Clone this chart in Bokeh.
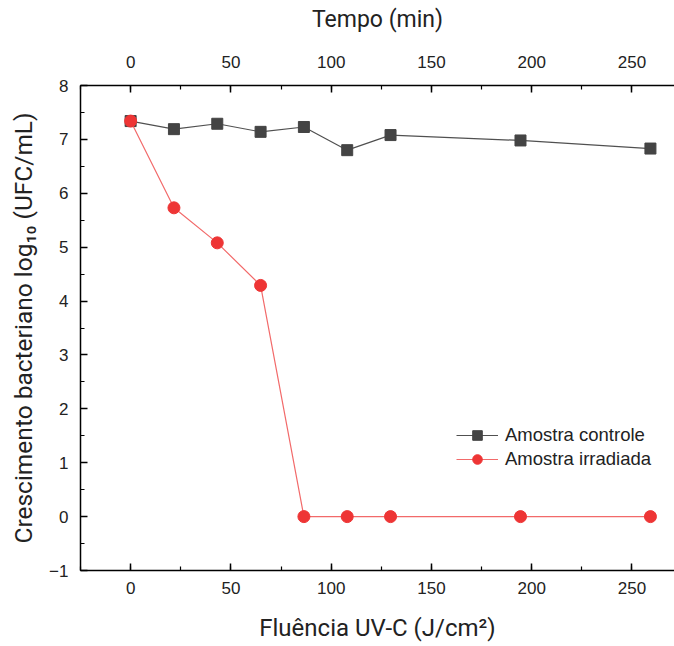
from bokeh.plotting import figure
from bokeh.models import LinearAxis, Range1d, SingleIntervalTicker, Legend, LegendItem
from bokeh.embed import file_html
from bokeh.resources import INLINE

fluencia = [0, 21.6, 43.2, 64.8, 86.4, 108, 129.6, 194.4, 259.2]
controle = [7.34, 7.19, 7.29, 7.14, 7.23, 6.80, 7.08, 6.98, 6.83]
irradiada = [7.34, 5.73, 5.08, 4.29, 0, 0, 0, 0, 0]

x_label = "Fluência UV-C (J/cm²)"
y_label = "Crescimento bacteriano log₁₀ (UFC/mL)"
top_label = "Tempo (min)"

TICK_FONT = "Liberation Sans"
LABEL_FONT = "Roboto"

p = figure(width=674, height=646, x_range=Range1d(-25, 271.2), y_range=Range1d(-1, 8),
           output_backend="svg", toolbar_location=None,
           min_border_left=80, min_border_right=0, min_border_top=85, min_border_bottom=76)
p.outline_line_color = None
p.xgrid.visible = False
p.ygrid.visible = False
p.background_fill_color = "white"
p.border_fill_color = "white"

p.extra_x_ranges = {"tempo": Range1d(-25, 271.2)}
top = LinearAxis(x_range_name="tempo")
p.add_layout(top, "above")

def style(ax, ticker, label_size):
    ax.ticker = ticker
    ax.axis_line_color = "black"
    ax.axis_line_width = 1.5
    ax.major_tick_in = 7
    ax.major_tick_out = 0
    ax.minor_tick_in = 4
    ax.minor_tick_out = 0
    ax.major_tick_line_color = "black"
    ax.minor_tick_line_color = "black"
    ax.major_tick_line_width = 1.5
    ax.minor_tick_line_width = 1.2
    ax.major_label_text_font = TICK_FONT
    ax.major_label_text_font_size = "17px"
    ax.major_label_text_color = "#222222"
    ax.axis_label_text_font = LABEL_FONT
    ax.axis_label_text_font_style = "normal"
    ax.axis_label_text_font_size = label_size
    ax.axis_label_text_color = "#222222"

for ax in p.below:
    style(ax, SingleIntervalTicker(interval=50, num_minor_ticks=2), "24px")
    ax.axis_label = x_label
    ax.major_label_standoff = 11
    ax.axis_label_standoff = 17
style(top, SingleIntervalTicker(interval=50, num_minor_ticks=2), "23px")
top.axis_label = top_label
top.major_label_standoff = 18
top.axis_label_standoff = 20
for ax in p.left:
    style(ax, SingleIntervalTicker(interval=1, num_minor_ticks=2), "24.5px")
    ax.axis_label = y_label
    ax.major_label_standoff = 12
    ax.axis_label_standoff = 8

GRAY = "#444444"
RED = "#ee3535"

l1 = p.line(fluencia, controle, line_color="#505050", line_width=1.2)
s1 = p.scatter(fluencia, controle, marker="square", size=11, fill_color=GRAY, line_color=GRAY)
l2 = p.line(fluencia, irradiada, line_color="#f26a6a", line_width=1.2)
s2 = p.scatter(fluencia, irradiada, marker="circle", size=12, fill_color=RED, line_color=RED)

legend = Legend(items=[LegendItem(label="Amostra controle", renderers=[l1, s1]),
                       LegendItem(label="Amostra irradiada", renderers=[l2, s2])],
                location=(376, 99))
legend.border_line_color = None
legend.background_fill_alpha = 0
legend.glyph_width = 42
legend.glyph_height = 24
legend.label_height = 24
legend.label_standoff = 7
legend.spacing = 0
legend.padding = 0
legend.margin = 0
legend.label_text_font = TICK_FONT
legend.label_text_font_size = "18.5px"
legend.label_text_color = "#222222"
p.add_layout(legend)

open("out.html", "w").write(file_html(p, INLINE))
